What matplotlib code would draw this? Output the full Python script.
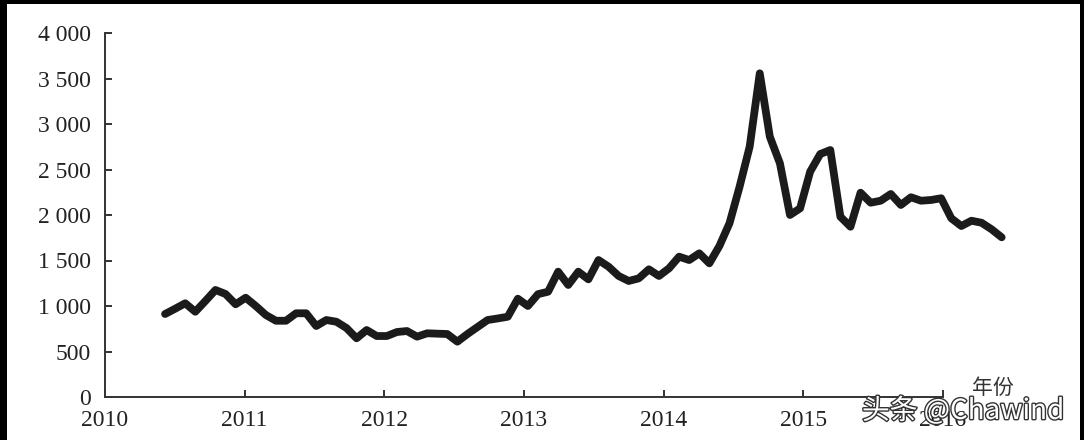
import numpy as np
import matplotlib
matplotlib.use("Agg")
import matplotlib.pyplot as plt
import matplotlib.patheffects as pe
from matplotlib.patches import Rectangle

# price series (roughly every 0.07 year)
start_year = 2010.43
end_year = 2016.42
values = [912, 970, 1030, 937, 1055, 1176, 1132, 1019, 1091, 1000,
          901, 838, 838, 920, 920, 780, 846, 827, 758, 645,
          736, 670, 670, 714, 725, 663, 700, 696, 692, 608,
          692, 769, 846, 863, 882, 1080, 1000, 1130, 1157, 1377,
          1231, 1377, 1293, 1505, 1432, 1330, 1275, 1304, 1403, 1330,
          1414, 1542, 1505, 1579, 1469, 1660, 1910, 2311, 2751, 3557,
          2860, 2568, 2000, 2073, 2476, 2670, 2714, 1981, 1871, 2245,
          2135, 2157, 2231, 2110, 2195, 2157, 2165, 2184, 1964, 1879,
          1937, 1915, 1843, 1755]
years = np.linspace(start_year, end_year, len(values))

xticks = [2010, 2011, 2012, 2013, 2014, 2015, 2016]
yticks = [0, 500, 1000, 1500, 2000, 2500, 3000, 3500, 4000]
ytick_labels = ["0", "500", "1 000", "1 500", "2 000", "2 500", "3 000", "3 500", "4 000"]

W, H = 1084, 440
fig = plt.figure(figsize=(W / 100, H / 100), dpi=100, facecolor="black")
# white page inside the black frame
fig.patches.append(Rectangle((7 / W, 0), (1080 - 7) / W, (H - 4) / H,
                             transform=fig.transFigure, facecolor="white",
                             edgecolor="none", zorder=-10))

ax = fig.add_axes([105 / W, 1 - 397 / H, (943 - 105) / W, (397 - 33) / H])
ax.set_facecolor("none")
ax.set_zorder(1)
ax.plot(years, values, color="#1b1b1b", linewidth=5.6, clip_on=False,
        solid_capstyle="round")

ax.set_xlim(2010, 2016)
ax.set_ylim(0, 4000)
for s in ["top", "right"]:
    ax.spines[s].set_visible(False)
for s in ["left", "bottom"]:
    ax.spines[s].set_linewidth(1.4)
    ax.spines[s].set_color("#333333")

serif = "Liberation Serif"
ax.set_xticks(xticks)
ax.set_xticklabels([str(x) for x in xticks], fontfamily=serif, fontsize=17)
ax.set_yticks(yticks)
ax.set_yticklabels(ytick_labels, fontfamily=serif, fontsize=17)
ax.tick_params(direction="in", length=5, width=1.4, color="#333333",
               labelcolor="#222222")
ax.tick_params(axis="x", pad=9)
ax.tick_params(axis="y", pad=10)

fig.text(993 / W, 1 - 388 / H, "年份", fontfamily="Noto Sans CJK SC",
         fontsize=15, color="#333333", ha="center", va="center", zorder=2)

fig.text(963 / W, 1 - 411 / H, "头条 @Chawind",
         fontfamily=["Noto Sans CJK SC", "DejaVu Sans"], fontsize=20,
         color="white", ha="center", va="center", zorder=3,
         path_effects=[pe.withStroke(linewidth=2, foreground="#333333")])

fig.savefig("out.png", dpi=100, facecolor=fig.get_facecolor())
